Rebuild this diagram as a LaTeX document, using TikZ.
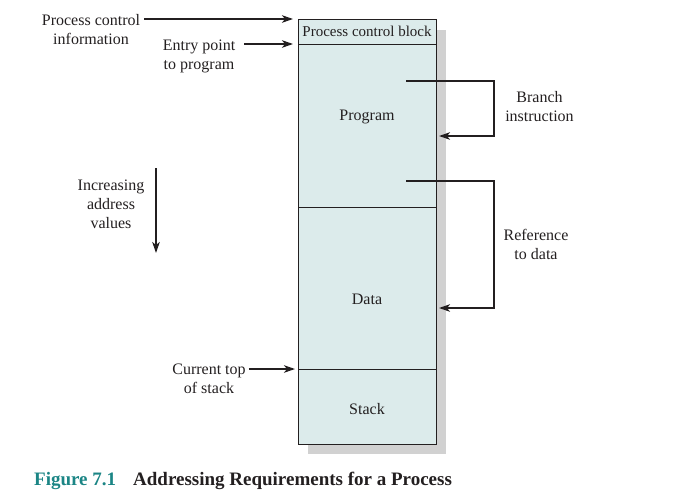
\documentclass[tikz,border=0pt]{standalone}
\usepackage{fontspec}
\setmainfont{Liberation Serif}
\usetikzlibrary{arrows.meta}
\definecolor{boxfill}{HTML}{DCEBEB}
\definecolor{shadowgray}{HTML}{D1D1D1}
\definecolor{ink}{HTML}{231F20}
\definecolor{capteal}{HTML}{1B8585}
\tikzset{
  lbl/.style={align=center,inner sep=2pt,text=ink,font=\fontsize{16}{19}\selectfont},
  part/.style={draw=ink,line width=0.9pt,fill=boxfill,minimum width=138pt,inner sep=0pt,outer sep=0pt,anchor=north west,text=ink,font=\fontsize{16}{19}\selectfont},
  conn/.style={draw=ink,line width=1.8pt,-{Stealth[length=11pt,width=7.5pt,inset=3pt]}},
  capfont/.style={font=\fontsize{19}{22}\selectfont\bfseries,inner sep=0pt,anchor=west}
}
\begin{document}
\begin{tikzpicture}[x=1pt,y=-1pt]
\useasboundingbox (0,0) rectangle (675,501);
% shadow
\fill[shadowgray] (308,30) rectangle (446,454);
% compartments
\node[part,minimum height=25pt,font=\fontsize{15}{18}\selectfont] (pcb) at (298,19) {Process control block};
\node[part,minimum height=163pt] (prog) at (298,44) {};
\node[part,minimum height=162pt] (data) at (298,207) {};
\node[part,minimum height=75pt] (stack) at (298,369) {};
\node[lbl] (progl) at (367,116.5) {Program};
\node[lbl] (datal) at (367,299) {Data};
\node[lbl] (stackl) at (367,409) {Stack};
% left labels
\node[lbl] (pci) at (91,30) {Process control\\information};
\node[lbl] (entry) at (199,56.5) {Entry point\\to program};
\node[lbl] (incr) at (111,204) {Increasing\\address\\values};
\node[lbl] (cur) at (209,379) {Current top\\of stack};
% right labels
\node[lbl] (branch) at (539.5,106.5) {Branch\\instruction};
\node[lbl] (ref) at (536,244.5) {Reference\\to data};
% arrows into block
\draw[conn] ([xshift=2pt]pci.east |- pcb.north) -- ([xshift=-5pt]pcb.north west);
\draw[conn] ([xshift=7pt]entry.east |- pcb.south) -- ([xshift=-5pt]pcb.south west);
\draw[conn] ([xshift=1pt]cur.east |- stack.north) -- ([xshift=-3pt]stack.north west);
% increasing address arrow
\coordinate (ia1) at (156,168);
\coordinate (ia2) at (156,253);
\draw[conn] (ia1) -- (ia2);
% branch instruction
\coordinate (b1) at (406,81);
\coordinate (b2) at (494,81);
\coordinate (b3) at (494,136);
\coordinate (b4) at (439,136);
\draw[conn] (b1) -- (b2) -- (b3) -- (b4);
% reference to data
\coordinate (r1) at (406,181);
\coordinate (r2) at (494,181);
\coordinate (r3) at (494,308);
\coordinate (r4) at (439,308);
\draw[conn] (r1) -- (r2) -- (r3) -- (r4);
% caption
\node[capfont,text=capteal] (fig) at (34,481) {Figure 7.1};
\node[capfont,text=ink] (captext) at (133,481) {Addressing Requirements for a Process};
\end{tikzpicture}
\end{document}
